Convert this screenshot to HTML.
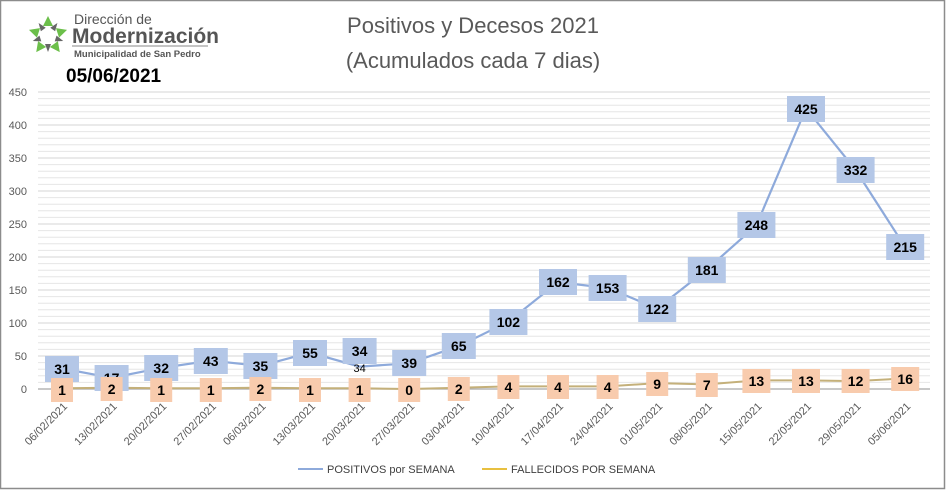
<!DOCTYPE html>
<html><head><meta charset="utf-8"><style>
body{margin:0;background:#fff;}
svg text{font-family:"Liberation Sans",sans-serif;}
</style></head><body>
<svg width="946" height="490" viewBox="0 0 946 490" xmlns="http://www.w3.org/2000/svg">
<rect x="0.5" y="0.5" width="944" height="488" fill="#fff" stroke="#8c8c8c" stroke-width="1.5"/>
<g transform="translate(48,36)">
<g fill="#6cbf4a">
<path d="M0,-20 L5,-10 L-5,-10Z"/><path d="M0,-20 L5,-10 L-5,-10Z" transform="rotate(72)"/><path d="M0,-20 L5,-10 L-5,-10Z" transform="rotate(144)"/><path d="M0,-20 L5,-10 L-5,-10Z" transform="rotate(216)"/><path d="M0,-20 L5,-10 L-5,-10Z" transform="rotate(288)"/>
</g>
<g fill="#666"><path d="M0,-16 L3,-8 L-3,-8Z" transform="rotate(36)"/><path d="M0,-16 L3,-8 L-3,-8Z" transform="rotate(108)"/><path d="M0,-16 L3,-8 L-3,-8Z" transform="rotate(180)"/><path d="M0,-16 L3,-8 L-3,-8Z" transform="rotate(252)"/><path d="M0,-16 L3,-8 L-3,-8Z" transform="rotate(324)"/></g>
</g>
<text x="74" y="24" font-size="14" fill="#555">Dirección de</text>
<text x="72" y="43" font-size="21" font-weight="bold" fill="#555">Modernización</text>
<line x1="72" y1="46" x2="208" y2="46" stroke="#888" stroke-width="1"/>
<text x="74" y="57" font-size="9.5" font-weight="bold" fill="#555">Municipalidad de San Pedro</text>
<text x="66" y="82" font-size="19" font-weight="bold" fill="#000">05/06/2021</text>
<text x="473" y="33" font-size="22" fill="#595959" text-anchor="middle">Positivos y Decesos 2021</text>
<text x="473" y="68" font-size="22" fill="#595959" text-anchor="middle">(Acumulados cada 7 dias)</text>
<g stroke="#e6e6e6" stroke-width="1">
<line x1="38" x2="930" y1="382.4" y2="382.4"/><line x1="38" x2="930" y1="375.8" y2="375.8"/><line x1="38" x2="930" y1="369.2" y2="369.2"/><line x1="38" x2="930" y1="362.6" y2="362.6"/>
<line x1="38" x2="930" y1="349.4" y2="349.4"/><line x1="38" x2="930" y1="342.8" y2="342.8"/><line x1="38" x2="930" y1="336.2" y2="336.2"/><line x1="38" x2="930" y1="329.6" y2="329.6"/>
<line x1="38" x2="930" y1="316.4" y2="316.4"/><line x1="38" x2="930" y1="309.8" y2="309.8"/><line x1="38" x2="930" y1="303.2" y2="303.2"/><line x1="38" x2="930" y1="296.6" y2="296.6"/>
<line x1="38" x2="930" y1="283.4" y2="283.4"/><line x1="38" x2="930" y1="276.8" y2="276.8"/><line x1="38" x2="930" y1="270.2" y2="270.2"/><line x1="38" x2="930" y1="263.6" y2="263.6"/>
<line x1="38" x2="930" y1="250.4" y2="250.4"/><line x1="38" x2="930" y1="243.8" y2="243.8"/><line x1="38" x2="930" y1="237.2" y2="237.2"/><line x1="38" x2="930" y1="230.6" y2="230.6"/>
<line x1="38" x2="930" y1="217.4" y2="217.4"/><line x1="38" x2="930" y1="210.8" y2="210.8"/><line x1="38" x2="930" y1="204.2" y2="204.2"/><line x1="38" x2="930" y1="197.6" y2="197.6"/>
<line x1="38" x2="930" y1="184.4" y2="184.4"/><line x1="38" x2="930" y1="177.8" y2="177.8"/><line x1="38" x2="930" y1="171.2" y2="171.2"/><line x1="38" x2="930" y1="164.6" y2="164.6"/>
<line x1="38" x2="930" y1="151.4" y2="151.4"/><line x1="38" x2="930" y1="144.8" y2="144.8"/><line x1="38" x2="930" y1="138.2" y2="138.2"/><line x1="38" x2="930" y1="131.6" y2="131.6"/>
<line x1="38" x2="930" y1="118.4" y2="118.4"/><line x1="38" x2="930" y1="111.8" y2="111.8"/><line x1="38" x2="930" y1="105.2" y2="105.2"/><line x1="38" x2="930" y1="98.6" y2="98.6"/>
</g>
<g stroke="#d4d4d4" stroke-width="1">
<line x1="38" x2="930" y1="356" y2="356"/><line x1="38" x2="930" y1="323" y2="323"/><line x1="38" x2="930" y1="290" y2="290"/><line x1="38" x2="930" y1="257" y2="257"/><line x1="38" x2="930" y1="224" y2="224"/><line x1="38" x2="930" y1="191" y2="191"/><line x1="38" x2="930" y1="158" y2="158"/><line x1="38" x2="930" y1="125" y2="125"/><line x1="38" x2="930" y1="92" y2="92"/>
</g>
<line x1="38" x2="930" y1="389" y2="389" stroke="#a6a6a6" stroke-width="1.2"/>
<g font-size="11" fill="#595959" text-anchor="end">
<text x="27" y="393">0</text><text x="27" y="360">50</text><text x="27" y="327">100</text><text x="27" y="294">150</text><text x="27" y="261">200</text><text x="27" y="228">250</text><text x="27" y="195">300</text><text x="27" y="162">350</text><text x="27" y="129">400</text><text x="27" y="96">450</text>
</g>
<polyline fill="none" stroke="#8eaadb" stroke-width="2.2" points="62,368.5 111.6,377.8 161.2,367.9 210.8,360.6 260.4,365.9 310,352.7 359.6,366.6 409.2,363.3 458.8,346.1 508.4,321.7 558,282.1 607.6,288 657.2,308.5 706.8,269.5 756.4,225.3 806,108.5 855.6,169.9 905.2,247.1"/>
<polyline fill="none" stroke="#c4b07a" stroke-width="2" points="62,388.3 111.6,387.7 161.2,388.3 210.8,388.3 260.4,387.7 310,388.3 359.6,388.3 409.2,389 458.8,387.7 508.4,386.4 558,386.4 607.6,386.4 657.2,383.1 706.8,384.4 756.4,380.4 806,380.4 855.6,381.1 905.2,378.4"/>
<text x="359.6" y="372" font-size="11" fill="#000" text-anchor="middle">34</text>
<g font-size="14" font-weight="bold" fill="#000" text-anchor="middle">
<g fill="#b4c7e7">
<rect x="45" y="356" width="34" height="26"/><rect x="94.6" y="365" width="34" height="26"/><rect x="144.2" y="355" width="34" height="26"/><rect x="193.8" y="348" width="34" height="26"/><rect x="243.4" y="353" width="34" height="26"/><rect x="293" y="340" width="34" height="26"/><rect x="342.6" y="338" width="34" height="26"/><rect x="392.2" y="350" width="34" height="26"/><rect x="441.8" y="333" width="34" height="26"/><rect x="489.4" y="309" width="38" height="26"/><rect x="539" y="269" width="38" height="26"/><rect x="588.6" y="275" width="38" height="26"/><rect x="638.2" y="296" width="38" height="26"/><rect x="687.8" y="257" width="38" height="26"/><rect x="737.4" y="212" width="38" height="26"/><rect x="787" y="96" width="38" height="26"/><rect x="836.6" y="157" width="38" height="26"/><rect x="886.2" y="234" width="38" height="26"/>
</g>
<text x="62" y="374">31</text><text x="111.6" y="383">17</text><text x="161.2" y="373">32</text><text x="210.8" y="366">43</text><text x="260.4" y="371">35</text><text x="310" y="358">55</text><text x="359.6" y="356">34</text><text x="409.2" y="368">39</text><text x="458.8" y="351">65</text><text x="508.4" y="327">102</text><text x="558" y="287">162</text><text x="607.6" y="293">153</text><text x="657.2" y="314">122</text><text x="706.8" y="275">181</text><text x="756.4" y="230">248</text><text x="806" y="114">425</text><text x="855.6" y="175">332</text><text x="905.2" y="252">215</text>
<g fill="#f8cbad">
<rect x="51" y="378" width="22" height="24"/><rect x="100.6" y="377" width="22" height="24"/><rect x="150.2" y="378" width="22" height="24"/><rect x="199.8" y="378" width="22" height="24"/><rect x="249.4" y="377" width="22" height="24"/><rect x="299" y="378" width="22" height="24"/><rect x="348.6" y="378" width="22" height="24"/><rect x="398.2" y="378" width="22" height="24"/><rect x="447.8" y="377" width="22" height="24"/><rect x="497.4" y="375" width="22" height="24"/><rect x="547" y="375" width="22" height="24"/><rect x="596.6" y="375" width="22" height="24"/><rect x="646.2" y="372" width="22" height="24"/><rect x="695.8" y="373" width="22" height="24"/><rect x="742.4" y="369" width="28" height="24"/><rect x="792" y="369" width="28" height="24"/><rect x="841.6" y="369" width="28" height="24"/><rect x="891.2" y="367" width="28" height="24"/>
</g>
<text x="62" y="395">1</text><text x="111.6" y="394">2</text><text x="161.2" y="395">1</text><text x="210.8" y="395">1</text><text x="260.4" y="394">2</text><text x="310" y="395">1</text><text x="359.6" y="395">1</text><text x="409.2" y="395">0</text><text x="458.8" y="394">2</text><text x="508.4" y="392">4</text><text x="558" y="392">4</text><text x="607.6" y="392">4</text><text x="657.2" y="389">9</text><text x="706.8" y="390">7</text><text x="756.4" y="386">13</text><text x="806" y="386">13</text><text x="855.6" y="386">12</text><text x="905.2" y="384">16</text>
</g>
<g font-size="11" fill="#595959" text-anchor="end">
<text transform="translate(68,407) rotate(-45)">06/02/2021</text>
<text transform="translate(117.6,407) rotate(-45)">13/02/2021</text>
<text transform="translate(167.2,407) rotate(-45)">20/02/2021</text>
<text transform="translate(216.8,407) rotate(-45)">27/02/2021</text>
<text transform="translate(266.4,407) rotate(-45)">06/03/2021</text>
<text transform="translate(316,407) rotate(-45)">13/03/2021</text>
<text transform="translate(365.6,407) rotate(-45)">20/03/2021</text>
<text transform="translate(415.2,407) rotate(-45)">27/03/2021</text>
<text transform="translate(464.8,407) rotate(-45)">03/04/2021</text>
<text transform="translate(514.4,407) rotate(-45)">10/04/2021</text>
<text transform="translate(564,407) rotate(-45)">17/04/2021</text>
<text transform="translate(613.6,407) rotate(-45)">24/04/2021</text>
<text transform="translate(663.2,407) rotate(-45)">01/05/2021</text>
<text transform="translate(712.8,407) rotate(-45)">08/05/2021</text>
<text transform="translate(762.4,407) rotate(-45)">15/05/2021</text>
<text transform="translate(812,407) rotate(-45)">22/05/2021</text>
<text transform="translate(861.6,407) rotate(-45)">29/05/2021</text>
<text transform="translate(911.2,407) rotate(-45)">05/06/2021</text>
</g>
<line x1="298" y1="469" x2="323" y2="469" stroke="#8eaadb" stroke-width="2"/>
<text x="327" y="473" font-size="11" fill="#404040">POSITIVOS por SEMANA</text>
<line x1="482" y1="469" x2="507" y2="469" stroke="#e8c040" stroke-width="2"/>
<text x="511" y="473" font-size="11" fill="#404040">FALLECIDOS POR SEMANA</text>
</svg>
</body></html>
